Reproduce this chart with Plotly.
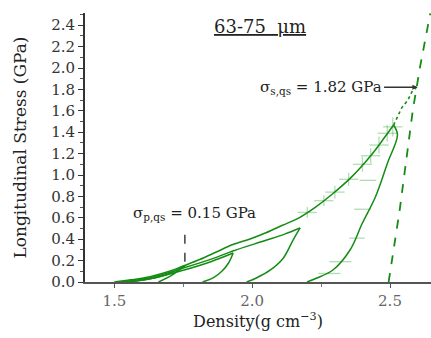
import plotly.graph_objects as go

# ---- data ----
# main loop (peak ~1.47 GPa)
load_main_x = [1.50, 1.56, 1.63, 1.70, 1.75, 1.81, 1.87, 1.93, 1.99, 2.05, 2.11, 2.17, 2.23, 2.29, 2.36, 2.43, 2.48, 2.513]
load_main_y = [0.00, 0.02, 0.05, 0.10, 0.15, 0.21, 0.28, 0.35, 0.40, 0.46, 0.53, 0.60, 0.70, 0.82, 0.98, 1.18, 1.35, 1.467]
unload_main_x = [2.513, 2.527, 2.491, 2.447, 2.400, 2.355, 2.293, 2.235, 2.199]
unload_main_y = [1.467, 1.374, 1.112, 0.794, 0.551, 0.299, 0.112, 0.037, 0.00]

# loop peaking at ~0.5 GPa
load_b_x = [1.52, 1.63, 1.75, 1.87, 1.93, 2.05, 2.12, 2.174]
load_b_y = [0.00, 0.04, 0.13, 0.23, 0.29, 0.39, 0.45, 0.505]
unload_b_x = [2.174, 2.148, 2.112, 2.065, 2.017, 1.98]
unload_b_y = [0.505, 0.39, 0.22, 0.11, 0.04, 0.00]

# loop peaking at ~0.27 GPa
load_a_x = [1.54, 1.63, 1.75, 1.85, 1.931]
load_a_y = [0.00, 0.03, 0.11, 0.19, 0.271]
unload_a_x = [1.931, 1.915, 1.89, 1.86, 1.82]
unload_a_y = [0.271, 0.18, 0.10, 0.04, 0.00]

# small loop peaking at ~0.15 GPa
load_s_x = [1.55, 1.63, 1.70, 1.756]
load_s_y = [0.00, 0.03, 0.08, 0.15]
unload_s_x = [1.756, 1.74, 1.70, 1.66]
unload_s_y = [0.15, 0.12, 0.05, 0.00]

# error bars along main loading / unloading
err_load_x = [2.20, 2.26, 2.30, 2.35, 2.40, 2.43, 2.46, 2.49, 2.51]
err_load_y = [0.65, 0.76, 0.84, 0.96, 1.10, 1.18, 1.28, 1.39, 1.45]
err_load_dx = [0.035] * 9
err_load_dy = [0.05, 0.05, 0.06, 0.06, 0.07, 0.07, 0.08, 0.08, 0.09]
err_unl_x = [2.42, 2.40, 2.38, 2.32, 2.28]
err_unl_y = [0.95, 0.68, 0.41, 0.19, 0.08]
err_unl_dx = [0.03, 0.03, 0.028, 0.04, 0.04]

# solid-state compression line and extrapolation
solid_x = [2.495, 2.535, 2.583, 2.609, 2.646]
solid_y = [0.00, 0.67, 1.61, 2.01, 2.51]
extrap_x = [2.513, 2.543, 2.565, 2.58, 2.60]
extrap_y = [1.467, 1.63, 1.70, 1.78, 1.83]

y_ticks = [0.0, 0.2, 0.4, 0.6, 0.8, 1.0, 1.2, 1.4, 1.6, 1.8, 2.0, 2.2, 2.4]
x_ticks = [1.5, 2.0, 2.5]

GREEN = "rgb(20,140,20)"
LIGHT = "rgba(60,170,60,0.4)"
FONT = "DejaVu Serif"

fig = go.Figure()

fig.add_trace(go.Scatter(x=err_load_x, y=err_load_y, mode="markers",
                         marker=dict(size=0.1, color="rgba(0,0,0,0)"),
                         error_x=dict(type="data", array=err_load_dx, color=LIGHT, thickness=1.3, width=0),
                         error_y=dict(type="data", array=err_load_dy, color=LIGHT, thickness=1.3, width=0),
                         showlegend=False, hoverinfo="skip"))
fig.add_trace(go.Scatter(x=err_unl_x, y=err_unl_y, mode="markers",
                         marker=dict(size=0.1, color="rgba(0,0,0,0)"),
                         error_x=dict(type="data", array=err_unl_dx, color=LIGHT, thickness=1.3, width=0),
                         showlegend=False, hoverinfo="skip"))

for xs, ys in [(load_main_x, load_main_y), (unload_main_x, unload_main_y),
               (load_b_x, load_b_y), (unload_b_x, unload_b_y),
               (load_a_x, load_a_y), (unload_a_x, unload_a_y),
               (load_s_x, load_s_y), (unload_s_x, unload_s_y)]:
    fig.add_trace(go.Scatter(x=xs, y=ys, mode="lines",
                             line=dict(color=GREEN, width=1.5, shape="spline", smoothing=1.0),
                             showlegend=False))

fig.add_trace(go.Scatter(x=solid_x, y=solid_y, mode="lines",
                         line=dict(color=GREEN, width=1.8, dash="dash"), showlegend=False))
fig.add_trace(go.Scatter(x=extrap_x, y=extrap_y, mode="lines",
                         line=dict(color=GREEN, width=1.6, dash="dot"), showlegend=False))

# annotations
fig.add_annotation(x=2.60, y=1.82, ax=-35, ay=0, text="", showarrow=True,
                   arrowhead=2, arrowsize=0.8, arrowwidth=1.3, arrowcolor="#333")
fig.add_annotation(x=2.478, y=1.82, text="σ<sub>s,qs</sub> = 1.82 GPa", showarrow=False,
                   xanchor="right", yanchor="middle", font=dict(family=FONT, size=15, color="#222"))
fig.add_annotation(x=1.79, y=0.636, text="σ<sub>p,qs</sub> = 0.15 GPa", showarrow=False,
                   xanchor="center", yanchor="middle", font=dict(family=FONT, size=15, color="#222"))
fig.add_shape(type="line", x0=1.756, x1=1.756, y0=0.19, y1=0.46,
              line=dict(color="#222", width=1.3, dash="dash"))
fig.add_annotation(xref="paper", yref="paper", x=0.506, y=0.948,
                   text="<u>63-75  μm</u>", showarrow=False, xanchor="center", yanchor="middle",
                   font=dict(family=FONT, size=18, color="#222"))

fig.update_layout(
    width=431, height=338,
    margin=dict(l=85, r=0, t=13, b=56),
    paper_bgcolor="white", plot_bgcolor="white",
    font=dict(family=FONT, color="#222"),
    xaxis=dict(range=[1.3937, 2.6487], tickvals=x_ticks, ticktext=[f"{v:.1f}" for v in x_ticks],
               automargin=False,
               showgrid=False, zeroline=False, showline=True, linecolor="#555", linewidth=2,
               ticks="outside", ticklen=4, tickwidth=1.2, tickcolor="#555",
               minor=dict(dtick=0.25, tick0=1.5, ticks="outside", ticklen=3, tickcolor="#777", showgrid=False),
               tickfont=dict(family=FONT, size=15, color="#666"),
               title=dict(text="Density(g cm<sup>−3</sup>)", font=dict(family=FONT, size=16, color="#222"), standoff=6)),
    yaxis=dict(range=[0, 2.514], tickvals=y_ticks, ticktext=[f"{v:.1f}" for v in y_ticks],
               automargin=False,
               showgrid=False, zeroline=False, showline=True, linecolor="#333", linewidth=2,
               ticks="outside", ticklen=5, tickwidth=1.2, tickcolor="#333",
               minor=dict(dtick=0.1, tick0=0, ticks="outside", ticklen=3, tickcolor="#555", showgrid=False),
               tickfont=dict(family=FONT, size=15, color="#333"),
               title=dict(text="Longitudinal Stress (GPa)", font=dict(family=FONT, size=17, color="#222"), standoff=20)),
)

fig.write_html("out.html", config={"displayModeBar": False},
               post_script="document.body.style.margin='0';")
